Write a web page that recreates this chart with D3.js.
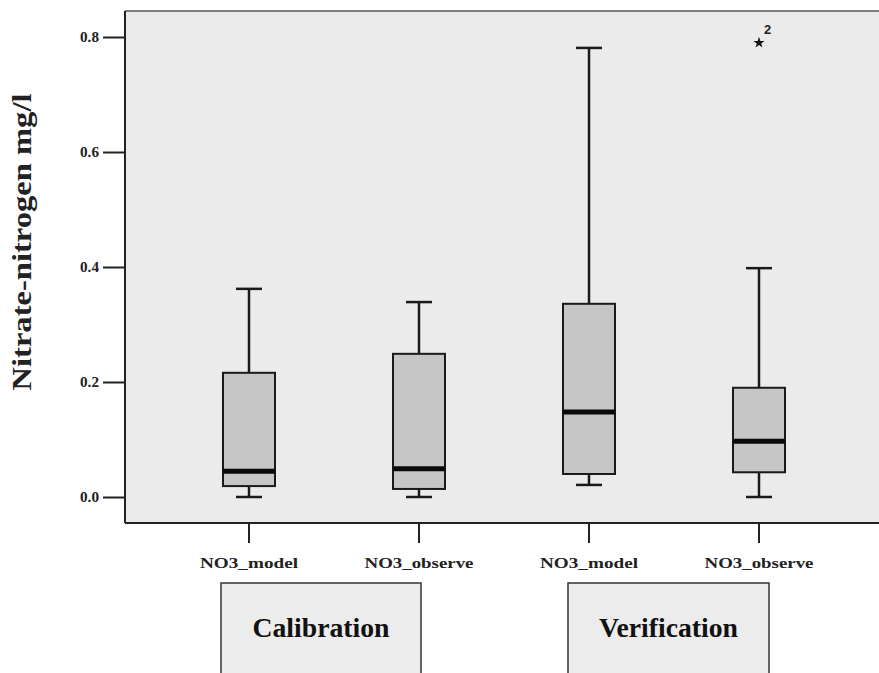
<!DOCTYPE html>
<html>
<head>
<meta charset="utf-8">
<script src="https://cdn.jsdelivr.net/npm/d3@7/dist/d3.min.js"></script>
<style>
  html, body { margin: 0; padding: 0; background: #ffffff; }
  svg { display: block; }
</style>
</head>
<body>
<svg id="chart" width="879" height="673"></svg>
<script>
// Nitrate-nitrogen box plots, calibration and verification periods
const categories = ["NO3_model", "NO3_observe", "NO3_model", "NO3_observe"];
const groups = ["Calibration", "Verification"];
const whiskerLow  = [0.000, 0.000, 0.021, 0.000];
const q1          = [0.019, 0.014, 0.040, 0.043];
const median      = [0.045, 0.049, 0.148, 0.097];
const q3          = [0.216, 0.249, 0.336, 0.190];
const whiskerHigh = [0.362, 0.339, 0.781, 0.398];
const outlierCategory = [3];
const outlierValue = [0.790];
const outlierLabel = ["2"];
const yTicks = [0.0, 0.2, 0.4, 0.6, 0.8];

const svg = d3.select("#chart");
const W = 879, H = 673;
const frame = { left: 125, top: 11, right: 890, bottom: 523 };
const serif = "'Liberation Serif', 'Times New Roman', serif";

const y = d3.scaleLinear().domain([0, 0.8]).range([497, 37]);
const x = d3.scaleBand().domain(d3.range(categories.length)).range([164, 844]).padding(0);
const boxW = 52, capW = 26;

// plot background
svg.append("rect")
  .attr("x", frame.left).attr("y", frame.top)
  .attr("width", frame.right - frame.left).attr("height", frame.bottom - frame.top)
  .attr("fill", "#ebebeb");

// frame: top border, left axis, bottom axis
svg.append("line").attr("x1", frame.left).attr("x2", W).attr("y1", frame.top).attr("y2", frame.top)
  .attr("stroke", "#555").attr("stroke-width", 1.5);
svg.append("line").attr("x1", frame.left).attr("x2", frame.left).attr("y1", frame.top).attr("y2", frame.bottom)
  .attr("stroke", "#222").attr("stroke-width", 2);
svg.append("line").attr("x1", frame.left).attr("x2", W).attr("y1", frame.bottom).attr("y2", frame.bottom)
  .attr("stroke", "#222").attr("stroke-width", 2);

// y axis ticks
const yAxis = d3.axisLeft(y).tickValues(yTicks).tickFormat(d3.format(".1f")).tickSize(22).tickPadding(4);
const ya = svg.append("g").attr("transform", `translate(${frame.left},0)`).call(yAxis);
ya.select(".domain").remove();
ya.selectAll(".tick line").attr("stroke", "#222").attr("stroke-width", 2);
ya.selectAll(".tick text")
  .attr("font-family", serif).attr("font-weight", "bold").attr("font-size", 14).attr("fill", "#222")
  .attr("textLength", 19).attr("lengthAdjust", "spacingAndGlyphs");

// x axis ticks and category labels
const labelWidth = { NO3_model: 98, NO3_observe: 109 };
const xg = svg.append("g");
categories.forEach((c, i) => {
  const cx = x(i) + x.bandwidth() / 2;
  xg.append("line").attr("x1", cx).attr("x2", cx).attr("y1", frame.bottom).attr("y2", frame.bottom + 20)
    .attr("stroke", "#222").attr("stroke-width", 2);
  xg.append("text").attr("x", cx).attr("y", 568).attr("text-anchor", "middle")
    .attr("font-family", serif).attr("font-weight", "bold").attr("font-size", 15).attr("fill", "#222")
    .attr("textLength", labelWidth[c]).attr("lengthAdjust", "spacingAndGlyphs")
    .text(c);
});

// y axis title
svg.append("text")
  .attr("transform", `translate(31,242) rotate(-90)`)
  .attr("text-anchor", "middle")
  .attr("font-family", serif).attr("font-weight", "bold").attr("font-size", 27).attr("fill", "#222")
  .attr("textLength", 297).attr("lengthAdjust", "spacingAndGlyphs")
  .text("Nitrate-nitrogen mg/l");

// boxes
const boxes = svg.append("g");
categories.forEach((c, i) => {
  const cx = x(i) + x.bandwidth() / 2;
  const g = boxes.append("g");
  // whiskers
  g.append("line").attr("x1", cx).attr("x2", cx).attr("y1", y(whiskerHigh[i])).attr("y2", y(q3[i]))
    .attr("stroke", "#1a1a1a").attr("stroke-width", 2.5);
  g.append("line").attr("x1", cx).attr("x2", cx).attr("y1", y(q1[i])).attr("y2", y(whiskerLow[i]))
    .attr("stroke", "#1a1a1a").attr("stroke-width", 2.5);
  g.append("line").attr("x1", cx - capW / 2).attr("x2", cx + capW / 2)
    .attr("y1", y(whiskerHigh[i])).attr("y2", y(whiskerHigh[i]))
    .attr("stroke", "#1a1a1a").attr("stroke-width", 2.5);
  g.append("line").attr("x1", cx - capW / 2).attr("x2", cx + capW / 2)
    .attr("y1", y(whiskerLow[i])).attr("y2", y(whiskerLow[i]))
    .attr("stroke", "#1a1a1a").attr("stroke-width", 2.5);
  // box
  g.append("rect").attr("x", cx - boxW / 2).attr("y", y(q3[i]))
    .attr("width", boxW).attr("height", y(q1[i]) - y(q3[i]))
    .attr("fill", "#c6c6c6").attr("stroke", "#1a1a1a").attr("stroke-width", 2);
  // median
  g.append("line").attr("x1", cx - boxW / 2).attr("x2", cx + boxW / 2)
    .attr("y1", y(median[i])).attr("y2", y(median[i]))
    .attr("stroke", "#0a0a0a").attr("stroke-width", 5);
});

// extreme value
outlierCategory.forEach((ci, k) => {
  const cx = x(ci) + x.bandwidth() / 2;
  svg.append("path")
    .attr("d", d3.symbol().type(d3.symbolStar).size(40)())
    .attr("transform", `translate(${cx},${y(outlierValue[k])})`)
    .attr("fill", "#111");
  svg.append("text").attr("x", cx + 5).attr("y", y(outlierValue[k]) - 9)
    .attr("font-family", "'Liberation Sans', Arial, sans-serif").attr("font-weight", "bold")
    .attr("font-size", 13).attr("fill", "#222").text(outlierLabel[k]);
});

// period boxes
const groupBoxes = [{ x: 221, w: 200 }, { x: 568, w: 201 }];
groups.forEach((gname, i) => {
  const b = groupBoxes[i];
  svg.append("rect").attr("x", b.x).attr("y", 583).attr("width", b.w).attr("height", 110)
    .attr("fill", "#ececec").attr("stroke", "#333").attr("stroke-width", 1.5);
  svg.append("text").attr("x", b.x + b.w / 2).attr("y", 637).attr("text-anchor", "middle")
    .attr("font-family", serif).attr("font-weight", "bold").attr("font-size", 27).attr("fill", "#111")
    .attr("textLength", gname === "Calibration" ? 137 : 139).attr("lengthAdjust", "spacingAndGlyphs")
    .text(gname);
});
</script>
</body>
</html>
